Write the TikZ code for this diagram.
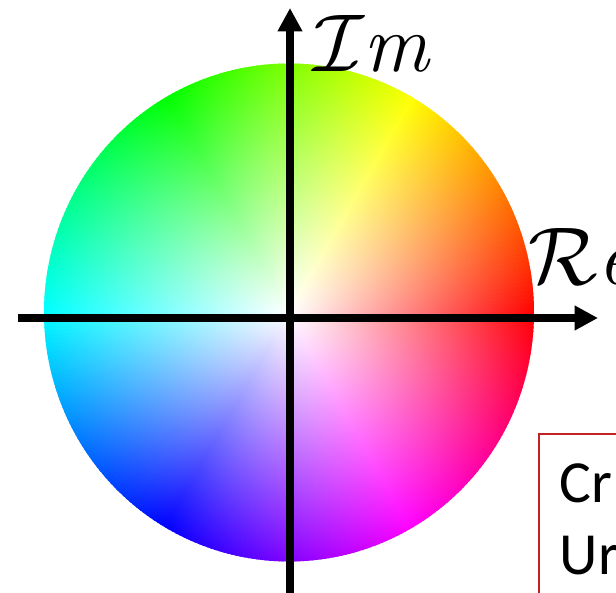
\RequirePackage{fix-cm}
\documentclass[tikz,border=0pt]{standalone}
\usepackage{fontspec}
\usetikzlibrary{arrows.meta,fadings}
\newfontfamily\notefont{Carlito}
\definecolor{NoteRed}{RGB}{196,34,34}
\tikzfading[name=whitefade,inner color=transparent!0,outer color=transparent!100]
\tikzset{
  axis/.style={line width=6.8pt,-{Triangle[length=20pt,width=20pt]}},
  axislabel/.style={anchor=base west,inner sep=0pt,
    font=\fontsize{70}{72}\selectfont},
  notebox/.style={draw=NoteRed,line width=1.3pt,anchor=north west,
    align=left,text width=5cm,inner xsep=18pt,inner ysep=26pt,
    font=\notefont\fontsize{51}{61}\selectfont}
}

\begin{document}
\begin{tikzpicture}[x=0.03cm,y=0.03cm]
  \useasboundingbox (0,0) rectangle (616,593);
  \clip (0,0) rectangle (616,593);
  % hue wheel, white in the middle
  \begin{scope}[shift={(289,280.5)},yscale=1.0163]
    \foreach \a in {0,...,359} {
      \definecolor{huecol}{Hsb}{\a,1,1}
      \fill[huecol] (0,0) -- (\a-0.8:245)
        arc[start angle=\a-0.8,end angle=\a+0.8,radius=245] -- cycle;
    }
    \fill[white,path fading=whitefade] (0,0) circle[radius=245];
  \end{scope}
  % axes
  \coordinate (west) at (18,275);
  \coordinate (east) at (598,275);
  \coordinate (south) at (290,-5);
  \coordinate (north) at (290,585);
  \draw[axis] (west) -- (east);
  \draw[axis] (south) -- (north);
  \node[axislabel] (im) at (313,521) {$\mathcal{I}\mathit{m}$};
  \node[axislabel] (re) at (528,308) {$\mathcal{R}\mathit{e}$};
  \node[notebox] (note) at (538,160) {Cr\\Ur};
\end{tikzpicture}
\end{document}
